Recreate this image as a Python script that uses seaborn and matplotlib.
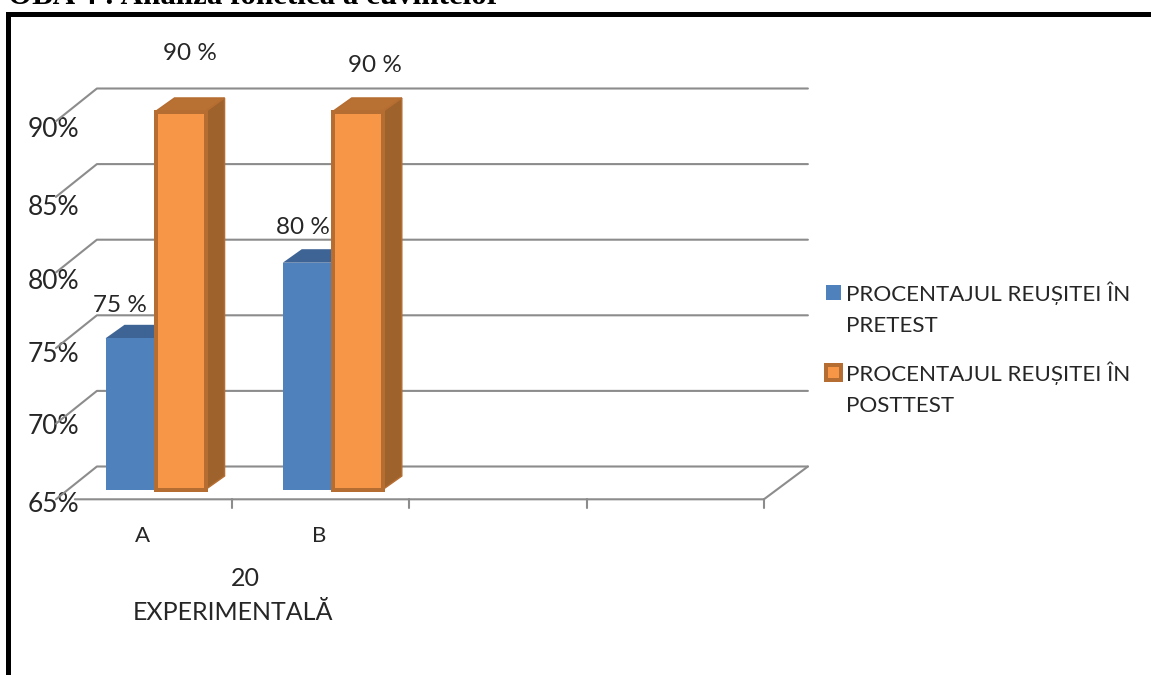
import matplotlib
matplotlib.use('Agg')
import matplotlib.pyplot as plt
from matplotlib.patches import Polygon, Rectangle
from matplotlib.transforms import ScaledTranslation
import pandas as pd
import seaborn as sns

# data
kategori = ['A', 'B']
slot_kategori = ['A', 'B', 'gol1', 'gol2']
pretest = [75, 80]
posttest = [90, 90]
nama_pretest = 'PROCENTAJUL REUȘITEI ÎN\nPRETEST'
nama_posttest = 'PROCENTAJUL REUȘITEI ÎN\nPOSTTEST'
nilai_y = [65, 70, 75, 80, 85, 90]
label_y = ['65%', '70%', '75%', '80%', '85%', '90%']
judul = 'OBA 4 : Analiza fonetică a cuvintelor'
judul_x = 'EXPERIMENTALĂ'
grup_x = '20'

# colours
BIRU, BIRU_ATAS = '#4F81BD', '#3E6495'
ORANYE, ORANYE_TEPI = '#F79646', '#B66D31'
ORANYE_ATAS, ORANYE_SISI = '#B87132', '#9E622C'
ABU = '#8C8C8C'
TEKS = '#262626'

W, H = 1151, 675
DPI = 100
PX = 72 / DPI  # points per pixel
X_PX = 177.25  # pixels per category
Y_PX = 15.12   # pixels per percent

sns.set_theme(style='white')
plt.rcParams['font.family'] = ['Lato', 'DejaVu Sans']

fig = plt.figure(figsize=(W / DPI, H / DPI), dpi=DPI)
ax = fig.add_axes([66.9 / W, 1 - 489.5 / H, 709 / W, 378 / H])
ax.patch.set_alpha(0)

df = pd.DataFrame({
    'kategori': kategori * 2,
    'nilai': pretest + posttest,
    'seri': [nama_pretest] * len(pretest) + [nama_posttest] * len(posttest),
})
sns.barplot(data=df, x='kategori', y='nilai', hue='seri', order=slot_kategori,
            palette=[BIRU, ORANYE], width=100 / X_PX, gap=0, saturation=1, ax=ax)


def dx(px):
    return px / X_PX


def dy(px):
    return px / Y_PX


ax.set_xlim(-0.5, 3.5)
ax.set_ylim(65, 90)

# floor and walls, offset from the bar plane
kiri_depan, kiri_belakang = -0.5 - dx(11), -0.5 + dx(30)
kanan_depan, kanan_belakang = 3.5 - dx(12), 3.5 + dx(32)
dasar_depan = 65 - dy(9.8)
naik_belakang = dy(23)
for v in nilai_y:
    ax.plot([kiri_depan, kiri_belakang, kanan_belakang],
            [v - dy(9.8), v + naik_belakang, v + naik_belakang],
            color=ABU, lw=1.5, clip_on=False, zorder=1)
ax.plot([kiri_depan + dx(19), kanan_depan, kanan_belakang],
        [dasar_depan, dasar_depan, 65 + naik_belakang],
        color=ABU, lw=1.5, clip_on=False, zorder=1)
for i in range(4):
    x_tick = i + 0.5 - dx(12)
    ax.plot([x_tick, x_tick], [dasar_depan, dasar_depan - dy(8.5)],
            color=ABU, lw=1.5, clip_on=False, zorder=1)

# 3d sides of the bars
warna_3d = [(BIRU_ATAS, BIRU_ATAS, None, 2), (ORANYE_ATAS, ORANYE_SISI, ORANYE_TEPI, 4)]
kedalaman_x, kedalaman_y = dx(19), dy(13.5)
for bars, (c_atas, c_sisi, c_tepi, z) in zip(ax.containers, warna_3d):
    for p in bars:
        tinggi = p.get_height()
        p.set_y(65)
        p.set_height(tinggi - 65)
        p.set_clip_on(False)
        p.set_zorder(z + 1)
        if c_tepi:
            p.set_edgecolor(c_tepi)
            p.set_linewidth(4 * PX)
        else:
            p.set_edgecolor('none')
        x0, x1 = p.get_x(), p.get_x() + p.get_width()
        atas = [(x0, tinggi), (x1, tinggi), (x1 + kedalaman_x, tinggi + kedalaman_y), (x0 + kedalaman_x, tinggi + kedalaman_y)]
        sisi = [(x1, tinggi), (x1 + kedalaman_x, tinggi + kedalaman_y), (x1 + kedalaman_x, 65 + kedalaman_y), (x1, 65)]
        ax.add_patch(Polygon(atas, fc=c_atas, ec=c_tepi or 'none', lw=1.5 * PX, clip_on=False, zorder=z))
        ax.add_patch(Polygon(sisi, fc=c_sisi, ec=c_tepi or 'none', lw=1.5 * PX, clip_on=False, zorder=z))

# value labels, shifted by hand like in the original
geser_label = {(0, 0): (-11, 33), (0, 1): (-5, 35), (1, 0): (9, 58), (1, 1): (17, 46)}
for s, bars in enumerate(ax.containers):
    for i, p in enumerate(bars):
        gx, gy = geser_label[(s, i)]
        ax.annotate(f'{p.get_y() + p.get_height():.0f} %',
                    (p.get_x() + p.get_width() / 2, p.get_y() + p.get_height()),
                    xytext=(gx * PX, gy * PX), textcoords='offset points',
                    ha='center', va='center', fontsize=17.5, color=TEKS, zorder=8)

# axis text
sns.despine(ax=ax, left=True, bottom=True)
ax.set_xticks(range(len(kategori)), kategori)
ax.set_yticks(nilai_y, label_y)
ax.tick_params(axis='x', length=0, pad=36 * PX, labelsize=16, labelcolor=TEKS)
ax.tick_params(axis='y', length=0, pad=0, labelsize=19, labelcolor=TEKS)
ax.set_xlabel(judul_x, fontsize=18, color=TEKS)
ax.xaxis.set_label_coords(233 / W, 1 - 612 / H, transform=fig.transFigure)
ax.xaxis.label.set_va('center')
ax.set_ylabel('')
ax.set_zorder(2)
fig.text(245 / W, 1 - 578.5 / H, grup_x, fontsize=18, color=TEKS, ha='center', va='center')

geser_y = [-13, -10.5, -13.5, -16.5, -18, -16]
for lbl, g in zip(ax.get_yticklabels(), geser_y):
    lbl.set_transform(lbl.get_transform() + ScaledTranslation(12.5 / DPI, g / DPI, fig.dpi_scale_trans))
for lbl in ax.get_xticklabels():
    lbl.set_transform(lbl.get_transform() + ScaledTranslation(-13.5 / DPI, 0, fig.dpi_scale_trans))

# legend, handles sit on the first line of each label
leg = ax.legend(loc='upper left', bbox_to_anchor=(826 / W, 1 - 281 / H), bbox_transform=fig.transFigure,
                frameon=False, fontsize=16.1, handlelength=0.65, handleheight=0.65, handletextpad=0.24,
                labelspacing=1.14, borderpad=0, borderaxespad=0, title=None)
for t in leg.get_texts():
    t.set_linespacing(1.7)
    t.set_color(TEKS)
for h in leg.legend_handles:
    h.set_y(h.get_y() + 16 * PX)
    h.set_edgecolor('none')
leg.legend_handles[1].set_edgecolor(ORANYE_TEPI)
leg.legend_handles[1].set_linewidth(4 * PX)

# title and frame
fig.text(8 / W, 1 - 4 / H, judul, family='Liberation Serif', fontweight='bold', fontsize=22.3,
         color='black', ha='left', va='baseline')
fig.add_artist(Rectangle((7.7 / W, -0.1), 1.2, 1.1 - 13.5 / H, transform=fig.transFigure,
                         fill=False, ec='black', lw=5 * PX))

fig.savefig('out.png', dpi=DPI)
